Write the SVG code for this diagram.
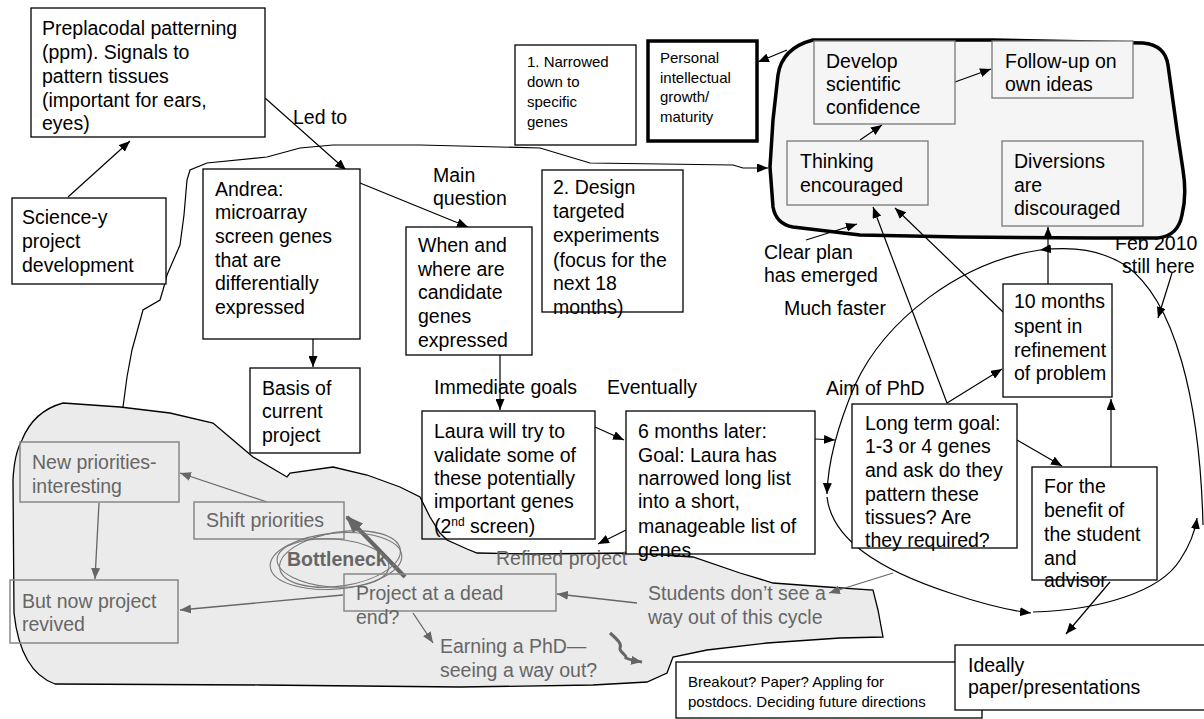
<svg xmlns="http://www.w3.org/2000/svg" width="1204" height="719" viewBox="0 0 1204 719">
<defs>
<style>
.t{font-family:"Liberation Sans",Arial,sans-serif;font-size:19.5px;fill:#000}
.s{font-size:15px}
.g{fill:#666}
.b{fill:none;stroke:#000;stroke-width:1.3}
.bw{fill:#fff;stroke:#000;stroke-width:1.3}
.bg{fill:none;stroke:#888;stroke-width:1.5}
.bi{fill:#f5f5f5;stroke:#777;stroke-width:1.3}
.c{fill:none;stroke:#000;stroke-width:1.2}
.cg{fill:none;stroke:#666;stroke-width:1.3}
</style>
<marker id="ah" markerWidth="11" markerHeight="9" refX="11" refY="4.5" orient="auto" markerUnits="userSpaceOnUse"><path d="M0,0 L11,4.5 L0,9 Z" fill="#000"/></marker>
<marker id="ag" markerWidth="11" markerHeight="9" refX="11" refY="4.5" orient="auto" markerUnits="userSpaceOnUse"><path d="M0,0 L11,4.5 L0,9 Z" fill="#666"/></marker>
<marker id="agb" markerWidth="18" markerHeight="14" refX="16" refY="7" orient="auto" markerUnits="userSpaceOnUse"><path d="M0,0 L18,7 L0,14 Z" fill="#666"/></marker>
</defs>
<rect width="1204" height="719" fill="#fff"/>

<!-- gray region -->
<g id="gray-region">
<path d="M63,403 L120,407 L170,413 L213,423 L233,440 L253,457 L287,477 L290,473 L333,467 L367,475 L400,487 L420,497 L430,517 L440,533 L447,540 L467,549 L477,553 L533,554 L633,553 L693,557 L740,573 L773,583 L827,587 L873,590 L878,610 L883,637 L840,638 L767,643 L707,650 L673,657 L667,673 L647,682 L593,685 L460,687 L260,685 L55,684 C30,675 18,650 14,613 L13,480 C14,460 18,447 22,440 C30,420 45,408 63,403 Z" fill="#ebebeb" stroke="#000" stroke-width="1.3"/>
</g>

<g id="labels-behind">
<text class="t"><tspan x="1115" y="250">Feb 2010</tspan><tspan x="1122" y="273">still here</tspan></text>
</g>

<!-- top-right blob -->
<g id="growth-region">
<path d="M813,40 L993,40 L1143,43 Q1165,45 1168,65 L1177,130 L1183,170 Q1187,195 1182,215 Q1178,236 1158,238 L1093,238 L960,237 L860,235 L793,227 Q776,224 773,207 L770,167 L773,120 L778,75 Q782,48 813,40 Z" fill="#f5f5f5" stroke="#000" stroke-width="3.5"/>
</g>

<g id="connectors">
<line class="c" x1="68" y1="197" x2="130" y2="141" marker-end="url(#ah)"/>
<line class="c" x1="265" y1="98" x2="346" y2="170" marker-end="url(#ah)"/>
<line class="c" x1="360" y1="183" x2="468" y2="227" marker-end="url(#ah)"/>
<line class="c" x1="313" y1="339" x2="313" y2="367" marker-end="url(#ah)"/>
<line class="c" x1="500" y1="355" x2="500" y2="410" marker-end="url(#ah)"/>
<line class="c" x1="595" y1="427" x2="624" y2="440" marker-end="url(#ah)"/>
<line class="c" x1="626" y1="530" x2="598" y2="544" marker-end="url(#ah)"/>
<line class="c" x1="815" y1="439" x2="835" y2="440" marker-end="url(#ah)"/>
<line class="c" x1="947" y1="403" x2="1002" y2="369" marker-end="url(#ah)"/>
<line class="c" x1="947" y1="403" x2="873" y2="207" marker-end="url(#ah)"/>
<line class="c" x1="1003" y1="312" x2="895" y2="208" marker-end="url(#ah)"/>
<line class="c" x1="1048" y1="284" x2="1048" y2="227" marker-end="url(#ah)"/>
<line class="c" x1="1017" y1="440" x2="1062" y2="466" marker-end="url(#ah)"/>
<line class="c" x1="1111" y1="467" x2="1111" y2="399" marker-end="url(#ah)"/>
<line class="c" x1="1110" y1="582" x2="1066" y2="634" marker-end="url(#ah)"/>
<line class="c" x1="860" y1="140" x2="882" y2="125" marker-end="url(#ah)"/>
<line class="c" x1="955" y1="82" x2="991" y2="69" marker-end="url(#ah)"/>
<line class="c" x1="806" y1="240" x2="857" y2="224" marker-end="url(#ah)"/>
<line class="c" x1="787" y1="50" x2="758" y2="62" marker-end="url(#ah)"/>
<line class="c" x1="1172" y1="273" x2="1158" y2="318" marker-end="url(#ah)"/>
<polyline class="c" points="123,407 127,377 132,350 143,310 160,300 163,290 167,275 180,245 184,215 187,180 190,170 207,163 267,157 300,148 333,145 420,145 540,148 590,163 733,165 743,168 768,168" marker-end="url(#ah)"/>
<!-- loop -->
<path class="c" d="M1203,525 C1200,400 1175,300 1125,265 C1100,250 1075,246 1040,250" marker-end="url(#ah)"/>
<path class="c" d="M1040,250 C960,262 885,320 855,385 C840,420 828,460 827,494" marker-end="url(#ah)"/>
<path class="c" d="M827,497 C832,540 880,570 950,593 C980,603 1005,610 1031,613" marker-end="url(#ah)"/>
<path class="c" d="M1033,612 C1100,610 1160,592 1180,560 C1190,545 1195,532 1197,518" marker-end="url(#ah)"/>
<!-- gray -->
<line class="cg" x1="267" y1="502" x2="180" y2="473" marker-end="url(#ag)"/>
<line class="cg" x1="99" y1="503" x2="95" y2="579" marker-end="url(#ag)"/>
<line class="cg" x1="343" y1="595" x2="180" y2="610" marker-end="url(#ag)"/>
<line class="cg" x1="637" y1="603" x2="557" y2="594" marker-end="url(#ag)"/>
<line class="cg" x1="413" y1="613" x2="433" y2="643" marker-end="url(#ag)"/>
<line class="cg" x1="893" y1="573" x2="829" y2="593" marker-end="url(#ag)"/>
<path d="M610,633 C618,640 622,644 620,648 C619,652 627,655 626,658 C630,660 636,661 642,662" fill="none" stroke="#666" stroke-width="3" marker-end="url(#ag)"/>
<line x1="405" y1="577" x2="347" y2="517" stroke="#666" stroke-width="4" marker-end="url(#agb)"/>
</g>

<g id="preplacodal">
<rect class="bw" x="31" y="8" width="234" height="129"/>
<text class="t"><tspan x="42" y="35">Preplacodal patterning</tspan><tspan x="42" y="59">(ppm). Signals to</tspan><tspan x="42" y="83">pattern tissues</tspan><tspan x="42" y="107">(important for ears,</tspan><tspan x="42" y="130">eyes)</tspan></text>
</g>
<g id="sciencey">
<rect class="bw" x="12" y="198" width="154" height="86"/>
<text class="t"><tspan x="22" y="224">Science-y</tspan><tspan x="22" y="248">project</tspan><tspan x="22" y="272">development</tspan></text>
</g>
<g id="andrea">
<rect class="bw" x="203" y="169" width="157" height="170"/>
<text class="t"><tspan x="215" y="196">Andrea:</tspan><tspan x="215" y="219">microarray</tspan><tspan x="215" y="243">screen genes</tspan><tspan x="215" y="267">that are</tspan><tspan x="215" y="290">differentially</tspan><tspan x="215" y="314">expressed</tspan></text>
</g>
<g id="basis">
<rect class="b" x="250" y="368" width="110" height="85"/>
<text class="t"><tspan x="262" y="395">Basis of</tspan><tspan x="262" y="418">current</tspan><tspan x="262" y="442">project</tspan></text>
</g>
<g id="when-where">
<rect class="bw" x="406" y="227" width="126" height="128"/>
<text class="t"><tspan x="418" y="252">When and</tspan><tspan x="418" y="276">where are</tspan><tspan x="418" y="299">candidate</tspan><tspan x="418" y="323">genes</tspan><tspan x="418" y="347">expressed</tspan></text>
</g>
<g id="narrowed">
<rect class="bw" x="515" y="45" width="121" height="100"/>
<text class="t s"><tspan x="527" y="67">1. Narrowed</tspan><tspan x="527" y="87">down to</tspan><tspan x="527" y="107">specific</tspan><tspan x="527" y="127">genes</tspan></text>
</g>
<g id="personal">
<rect x="648" y="41" width="109" height="100" fill="#fff" stroke="#000" stroke-width="3.5"/>
<text class="t s"><tspan x="660" y="63">Personal</tspan><tspan x="660" y="83">intellectual</tspan><tspan x="660" y="102">growth/</tspan><tspan x="660" y="122">maturity</tspan></text>
</g>
<g id="design">
<rect class="bw" x="542" y="170" width="141" height="142"/>
<text class="t"><tspan x="553" y="194">2. Design</tspan><tspan x="553" y="218">targeted</tspan><tspan x="553" y="242">experiments</tspan><tspan x="553" y="267">(focus for the</tspan><tspan x="553" y="290">next 18</tspan><tspan x="553" y="314">months)</tspan></text>
</g>
<g id="develop">
<rect class="bi" x="814" y="41" width="141" height="83"/>
<text class="t"><tspan x="826" y="68">Develop</tspan><tspan x="826" y="91">scientific</tspan><tspan x="826" y="114">confidence</tspan></text>
</g>
<g id="follow-up">
<rect class="bi" x="992" y="41" width="141" height="57"/>
<text class="t"><tspan x="1005" y="68">Follow-up on</tspan><tspan x="1005" y="91">own ideas</tspan></text>
</g>
<g id="thinking">
<rect class="bi" x="787" y="141" width="141" height="64"/>
<text class="t"><tspan x="800" y="168">Thinking</tspan><tspan x="800" y="192">encouraged</tspan></text>
</g>
<g id="diversions">
<rect class="bi" x="1002" y="141" width="141" height="85"/>
<text class="t"><tspan x="1014" y="168">Diversions</tspan><tspan x="1014" y="192">are</tspan><tspan x="1014" y="215">discouraged</tspan></text>
</g>
<g id="ten-months">
<rect class="bw" x="1003" y="284" width="109" height="113"/>
<text class="t"><tspan x="1014" y="308">10 months</tspan><tspan x="1014" y="333">spent in</tspan><tspan x="1014" y="357">refinement</tspan><tspan x="1014" y="380">of problem</tspan></text>
</g>
<g id="long-term">
<rect class="bw" x="852" y="404" width="165" height="144"/>
<text class="t"><tspan x="865" y="430">Long term goal:</tspan><tspan x="865" y="453">1-3 or 4 genes</tspan><tspan x="865" y="477">and ask do they</tspan><tspan x="865" y="501">pattern these</tspan><tspan x="865" y="524">tissues? Are</tspan><tspan x="865" y="547">they required?</tspan></text>
</g>
<g id="benefit">
<rect class="bw" x="1032" y="467" width="125" height="113"/>
<text class="t"><tspan x="1044" y="493">For the</tspan><tspan x="1044" y="517">benefit of</tspan><tspan x="1044" y="541">the student</tspan><tspan x="1044" y="565">and</tspan><tspan x="1044" y="587">advisor</tspan></text>
</g>
<g id="breakout">
<rect class="bw" x="676" y="662" width="306" height="56"/>
<text class="t s"><tspan x="688" y="687">Breakout? Paper? Appling for</tspan><tspan x="688" y="707">postdocs. Deciding future directions</tspan></text>
</g>
<g id="ideally">
<rect class="bw" x="955" y="645" width="260" height="65"/>
<text class="t"><tspan x="968" y="672">Ideally</tspan><tspan x="968" y="694">paper/presentations</tspan></text>
</g>
<g id="laura">
<rect class="b" x="422" y="411" width="173" height="128"/>
<text class="t"><tspan x="434" y="438">Laura will try to</tspan><tspan x="434" y="462">validate some of</tspan><tspan x="434" y="485">these potentially</tspan><tspan x="434" y="508">important genes</tspan><tspan x="434" y="533">(2<tspan font-size="12" dy="-7">nd</tspan><tspan dy="7"> screen)</tspan></tspan></text>
</g>
<g id="six-months">
<rect class="bw" x="626" y="411" width="189" height="143"/>
<text class="t"><tspan x="638" y="438">6 months later:</tspan><tspan x="638" y="462">Goal: Laura has</tspan><tspan x="638" y="485">narrowed long list</tspan><tspan x="638" y="508">into a short,</tspan><tspan x="638" y="533">manageable list of</tspan><tspan x="638" y="557">genes</tspan></text>
</g>

<!-- gray nodes -->
<g id="new-priorities">
<rect class="bg" x="20" y="442" width="159" height="60"/>
<text class="t g"><tspan x="32" y="469">New priorities-</tspan><tspan x="32" y="493">interesting</tspan></text>
</g>
<g id="shift-priorities">
<rect class="bg" x="194" y="502" width="150" height="37"/>
<text class="t g" x="206" y="527">Shift priorities</text>
</g>
<g id="bottleneck">
<ellipse cx="336" cy="561" rx="66" ry="28" transform="rotate(-5 336 561)" fill="none" stroke="#777" stroke-width="1.1"/>
<ellipse cx="333" cy="563" rx="56" ry="24" transform="rotate(4 333 563)" fill="none" stroke="#777" stroke-width="1.1"/>
<ellipse cx="340" cy="559" rx="61" ry="27" transform="rotate(-9 340 559)" fill="none" stroke="#777" stroke-width="1.1"/>
<text class="t g" x="287" y="566" font-weight="bold">Bottleneck</text>
</g>
<g id="dead-end">
<rect class="bg" x="344" y="574" width="212" height="37"/>
<text class="t g"><tspan x="356" y="600">Project at a dead</tspan><tspan x="356" y="624">end?</tspan></text>
</g>
<g id="revived">
<rect class="bg" x="10" y="580" width="168" height="63"/>
<text class="t g"><tspan x="22" y="608">But now project</tspan><tspan x="22" y="631">revived</tspan></text>
</g>
<g id="labels">
<text class="t" x="293" y="124">Led to</text>
<text class="t"><tspan x="433" y="182">Main</tspan><tspan x="433" y="205">question</tspan></text>
<text class="t" x="434" y="394">Immediate goals</text>
<text class="t" x="607" y="394">Eventually</text>
<text class="t" x="826" y="395">Aim of PhD</text>
<text class="t"><tspan x="764" y="259">Clear plan</tspan><tspan x="764" y="282">has emerged</tspan></text>
<text class="t" x="784" y="315">Much faster</text>
<text class="t g" x="496" y="565">Refined project</text>
<text class="t g"><tspan x="440" y="653">Earning a PhD—</tspan><tspan x="440" y="677">seeing a way out?</tspan></text>
<text class="t g"><tspan x="648" y="600">Students don’t see a</tspan><tspan x="648" y="624">way out of this cycle</tspan></text>
</g>
</svg>
